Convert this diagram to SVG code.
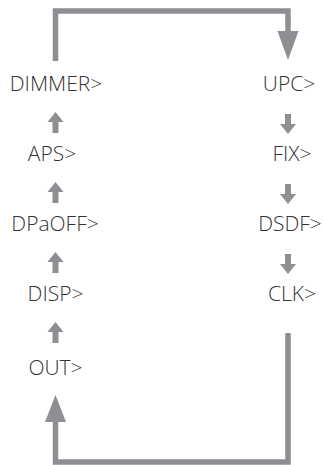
<svg xmlns="http://www.w3.org/2000/svg" width="324" height="465" viewBox="0 0 324 465">
<style>
.t{font-family:"Open Sans","Liberation Sans",sans-serif;font-weight:300;font-size:21px;fill:#333;text-anchor:middle}
.ln{fill:none;stroke:#8e8f92;stroke-width:5.5}
.ah{fill:#8e8f92}
</style>
<defs>
<path id="up" d="M0 0 L8 10 L3 10 L3 21 L-3 21 L-3 10 L-8 10 Z"/>
<path id="dn" d="M-3 0 L3 0 L3 10 L8 10 L0 20 L-8 10 L-3 10 Z"/>
</defs>
<g id="connectors">
<polyline class="ln" points="55.5,61 55.5,11 288,11 288,32"/>
<polygon class="ah" points="277.5,31 298.5,31 288,60"/>
<polyline class="ln" points="288,333 288,462 55.5,462 55.5,420"/>
<polygon class="ah" points="45,422 66,422 55.5,395"/>
<use href="#up" class="ah" x="55.5" y="112"/>
<use href="#up" class="ah" x="55.5" y="182"/>
<use href="#up" class="ah" x="55.5" y="252"/>
<use href="#up" class="ah" x="55.5" y="322"/>
<use href="#dn" class="ah" x="288" y="114"/>
<use href="#dn" class="ah" x="288" y="184"/>
<use href="#dn" class="ah" x="288" y="254"/>
</g>
<g id="dimmer"><text class="t" x="56" y="91">DIMMER&gt;</text></g>
<g id="aps"><text class="t" x="52" y="161">APS&gt;</text></g>
<g id="dpaoff"><text class="t" x="55" y="231">DPaOFF&gt;</text></g>
<g id="disp"><text class="t" x="55.5" y="301">DISP&gt;</text></g>
<g id="out"><text class="t" x="55.5" y="375">OUT&gt;</text></g>
<g id="upc"><text class="t" x="289" y="91">UPC&gt;</text></g>
<g id="fix"><text class="t" x="292" y="161">FIX&gt;</text></g>
<g id="dsdf"><text class="t" x="290" y="231">DSDF&gt;</text></g>
<g id="clk"><text class="t" x="292" y="301">CLK&gt;</text></g>
</svg>
